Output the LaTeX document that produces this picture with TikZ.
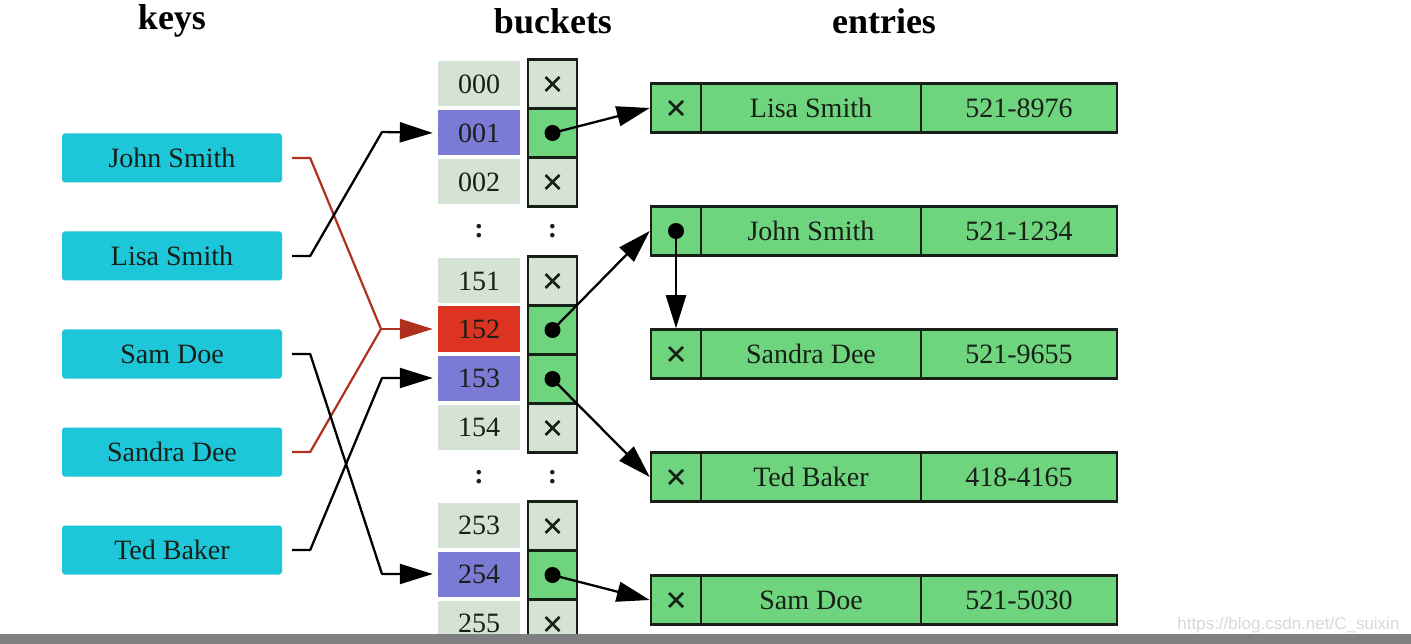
\documentclass[tikz,border=0pt]{standalone}
\usepackage{fontspec}
\setmainfont{Liberation Serif}
\newfontfamily\wmfont{Liberation Sans}
\usetikzlibrary{arrows.meta}
\definecolor{keycyan}{HTML}{1EC6DA}
\definecolor{idxgray}{HTML}{D5E3D5}
\definecolor{idxblue}{HTML}{7B7BD6}
\definecolor{idxred}{HTML}{DD3322}
\definecolor{cellgreen}{HTML}{6FD47E}
\definecolor{txtdark}{HTML}{172017}
\definecolor{redline}{HTML}{B0301E}
\definecolor{bargray}{HTML}{808080}
\definecolor{wmgray}{HTML}{D8D8D8}
\tikzset{
  txt/.style={text=txtdark, font=\fontsize{28}{30}\selectfont},
  title/.style={font=\fontsize{36}{38}\selectfont\bfseries, text=black},
  keybox/.style={txt, fill=keycyan, rounded corners=3pt, minimum width=220pt, minimum height=49pt, inner sep=0pt},
  idxbox/.style={txt, fill=idxgray, minimum width=82pt, minimum height=45pt, inner sep=0pt},
  ptrbox/.style={txt, draw=txtdark, line width=2.5pt, fill=idxgray, minimum width=49pt, minimum height=49pt, inner sep=0pt},
  ptrfull/.style={ptrbox, fill=cellgreen},
  entp/.style={txt, draw=txtdark, line width=2.5pt, fill=cellgreen, minimum width=50pt, minimum height=49pt, inner sep=0pt},
  entn/.style={txt, draw=txtdark, line width=2.5pt, fill=cellgreen, minimum width=220pt, minimum height=49pt, inner sep=0pt},
  entk/.style={txt, draw=txtdark, line width=2.5pt, fill=cellgreen, minimum width=196pt, minimum height=49pt, inner sep=0pt},
  vdots/.style={txt, font=\fontsize{28}{30}\selectfont\bfseries},
  blackline/.style={draw=black, line width=2.3pt, line join=round},
  redl/.style={draw=redline, line width=2.2pt, line join=round},
  tip/.style={-{Triangle[length=33pt,width=20pt]}},
  keytip/.style={tip, shorten >=5pt},
  dot/.style={fill=black, draw=none}
}
\newcommand{\xx}{\tikz[baseline=-0.5ex]{\draw[line width=2.6pt, txtdark] (-7pt,-7pt) -- (7pt,7pt) (-7pt,7pt) -- (7pt,-7pt);}}
\begin{document}
\begin{tikzpicture}[x=1pt,y=-1pt]
\useasboundingbox[fill=white] (0,0) rectangle (1411,644);

% titles
\node[title] (tkeys) at (172,21) {keys};
\node[title] (tbuckets) at (553,21) {buckets};
\node[title] (tentries) at (884,21) {entries};

% keys
\node[keybox] (kjohn) at (172,158) {John Smith};
\node[keybox] (klisa) at (172,256) {Lisa Smith};
\node[keybox] (ksam) at (172,354) {Sam Doe};
\node[keybox] (ksandra) at (172,452) {Sandra Dee};
\node[keybox] (kted) at (172,550) {Ted Baker};

% bucket indices
\node[idxbox] (b000) at (479,84) {000};
\node[idxbox, fill=idxblue] (b001) at (479,133) {001};
\node[idxbox] (b002) at (479,182) {002};
\node[vdots] (d1) at (479,231) {:};
\node[idxbox] (b151) at (479,281) {151};
\node[idxbox, fill=idxred] (b152) at (479,329) {152};
\node[idxbox, fill=idxblue] (b153) at (479,378) {153};
\node[idxbox] (b154) at (479,427) {154};
\node[vdots] (d2) at (479,477) {:};
\node[idxbox] (b253) at (479,525) {253};
\node[idxbox, fill=idxblue] (b254) at (479,574) {254};
\node[idxbox] (b255) at (479,623) {255};

% bucket pointers
\node[ptrbox] (p000) at (552.5,84) {\xx};
\node[ptrfull] (p001) at (552.5,133) {};
\node[ptrbox] (p002) at (552.5,182) {\xx};
\node[vdots] (d3) at (552.5,231) {:};
\node[ptrbox] (p151) at (552.5,281) {\xx};
\node[ptrfull] (p152) at (552.5,330) {};
\node[ptrfull] (p153) at (552.5,379) {};
\node[ptrbox] (p154) at (552.5,428) {\xx};
\node[vdots] (d4) at (552.5,477) {:};
\node[ptrbox] (p253) at (552.5,526) {\xx};
\node[ptrfull] (p254) at (552.5,575) {};
\node[ptrbox] (p255) at (552.5,624) {\xx};

% entries
\node[entp] (e1p) at (676,108) {\xx};
\node[entn] (e1n) at (811,108) {Lisa Smith};
\node[entk] (e1k) at (1019,108) {521-8976};
\node[entp] (e2p) at (676,231) {};
\node[entn] (e2n) at (811,231) {John Smith};
\node[entk] (e2k) at (1019,231) {521-1234};
\node[entp] (e3p) at (676,354) {\xx};
\node[entn] (e3n) at (811,354) {Sandra Dee};
\node[entk] (e3k) at (1019,354) {521-9655};
\node[entp] (e4p) at (676,477) {\xx};
\node[entn] (e4n) at (811,477) {Ted Baker};
\node[entk] (e4k) at (1019,477) {418-4165};
\node[entp] (e5p) at (676,600) {\xx};
\node[entn] (e5n) at (811,600) {Sam Doe};
\node[entk] (e5k) at (1019,600) {521-5030};

% bend coordinates of key connectors
\coordinate (jl) at (382,132);
\coordinate (jr) at (381,329);
\coordinate (js) at (382,574);
\coordinate (jt) at (382,378);

% key -> bucket connectors
\draw[redl, shorten <=10pt] (kjohn.east) -- ++(28,0) -- (jr);
\draw[redl, shorten <=10pt] (ksandra.east) -- ++(28,0) -- (jr);
\draw[redl, keytip, draw=redline, fill=idxred] (jr) -- (b152.west);
\draw[blackline, keytip, shorten <=10pt] (klisa.east) -- ++(28,0) -- (jl) -- (b001.west);
\draw[blackline, keytip, shorten <=10pt] (ksam.east) -- ++(28,0) -- (js) -- (b254.west);
\draw[blackline, keytip, shorten <=10pt] (kted.east) -- ++(28,0) -- (jt) -- (b153.west);

% bucket -> entry pointers
\draw[blackline, tip] (p001.center) -- (e1p.west);
\draw[blackline, tip] (p152.center) -- (e2p.west);
\draw[blackline, tip] (p153.center) -- (e4p.west);
\draw[blackline, tip] (p254.center) -- (e5p.west);
\draw[blackline, tip] (e2p.center) -- (e3p.north);
\foreach \n in {p001,p152,p153,p254,e2p} \fill[dot] (\n.center) circle (8pt);

% bottom bar and watermark
\fill[bargray] (0,634) rectangle (1411,644);
\node[text=wmgray, font=\wmfont\fontsize{17}{18}\selectfont, anchor=east] (wm) at (1403,625) {https://blog.csdn.net/C\_suixin};
\end{tikzpicture}
\end{document}
